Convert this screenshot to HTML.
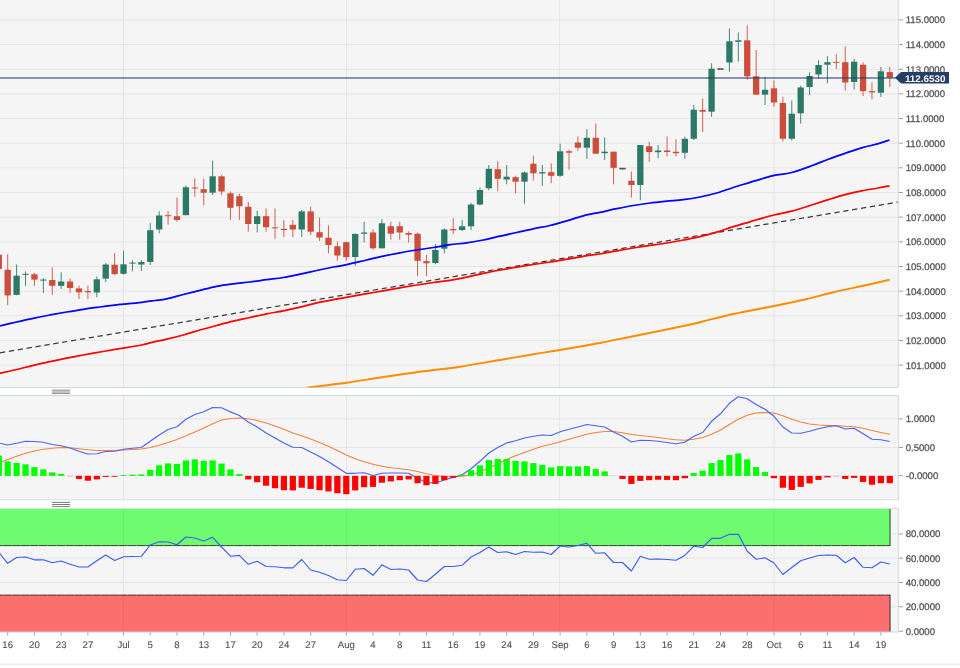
<!DOCTYPE html>
<html lang="en"><head><meta charset="utf-8"><title>Chart</title>
<style>html,body{margin:0;padding:0;background:#fff}body{width:960px;height:668px;overflow:hidden}svg{display:block}text{text-rendering:geometricPrecision;font-family:"Liberation Sans",Arial,sans-serif;font-size:9.6px;fill:#505050;stroke:#505050;stroke-width:0.25px}.x{stroke-width:0.1px}.b{font-weight:bold;fill:#fff;stroke:none}</style></head><body>
<svg width="960" height="668" viewBox="0 0 960 668">
<defs><clipPath id="c3"><rect x="0" y="509.0" width="898.3" height="123"/></clipPath><clipPath id="c1"><rect x="0" y="0" width="898.3" height="387.5"/></clipPath></defs>
<rect width="960" height="668" fill="#fff"/>
<rect x="0" y="0" width="898.3" height="387.5" fill="#f5f5f5"/>
<rect x="0" y="395.5" width="898.3" height="104.3" fill="#f5f5f5"/>
<rect x="0" y="508.5" width="898.3" height="123.5" fill="#f5f5f5"/>
<g fill="#e5e5e5">
<rect x="0" y="364.57" width="898.3" height="1"/>
<rect x="0" y="339.91" width="898.3" height="1"/>
<rect x="0" y="315.26" width="898.3" height="1"/>
<rect x="0" y="290.61" width="898.3" height="1"/>
<rect x="0" y="265.95" width="898.3" height="1"/>
<rect x="0" y="241.3" width="898.3" height="1"/>
<rect x="0" y="216.64" width="898.3" height="1"/>
<rect x="0" y="191.99" width="898.3" height="1"/>
<rect x="0" y="167.33" width="898.3" height="1"/>
<rect x="0" y="142.68" width="898.3" height="1"/>
<rect x="0" y="118.02" width="898.3" height="1"/>
<rect x="0" y="93.37" width="898.3" height="1"/>
<rect x="0" y="68.71" width="898.3" height="1"/>
<rect x="0" y="44.05" width="898.3" height="1"/>
<rect x="0" y="19.4" width="898.3" height="1"/>
<rect x="0" y="418.4" width="898.3" height="1"/>
<rect x="0" y="446.9" width="898.3" height="1"/>
<rect x="0" y="475.2" width="898.3" height="1"/>
<rect x="0" y="557.7" width="898.3" height="1"/>
<rect x="0" y="582" width="898.3" height="1"/>
<rect x="890.59" y="533.4" width="7.71" height="1"/>
<rect x="890.59" y="606.3" width="7.71" height="1"/>
<rect x="123" y="0" width="1" height="387.5"/>
<rect x="123" y="395.5" width="1" height="104.3"/>
<rect x="123" y="508.5" width="1" height="123.5"/>
<rect x="346.1" y="0" width="1" height="387.5"/>
<rect x="346.1" y="395.5" width="1" height="104.3"/>
<rect x="346.1" y="508.5" width="1" height="123.5"/>
<rect x="559.1" y="0" width="1" height="387.5"/>
<rect x="559.1" y="395.5" width="1" height="104.3"/>
<rect x="559.1" y="508.5" width="1" height="123.5"/>
<rect x="773.5" y="0" width="1" height="387.5"/>
<rect x="773.5" y="395.5" width="1" height="104.3"/>
<rect x="773.5" y="508.5" width="1" height="123.5"/>
</g>
<g clip-path="url(#c3)">
<rect x="0" y="508.5" width="890.09" height="37.1" fill="rgba(0,255,0,0.55)"/>
<rect x="0" y="595.1" width="890.09" height="36.9" fill="rgba(255,0,0,0.55)"/>
<path d="M0 545.6 H890.09 M0 595.1 H890.09" fill="none" stroke="rgba(0,0,0,0.72)" stroke-width="1" stroke-dasharray="8.61 0.3" stroke-dashoffset="-3.2"/>
<path d="M890.09 508.5 V546 M890.09 594.7 V632" fill="none" stroke="rgba(0,0,0,0.72)" stroke-width="1"/>
</g>
<g stroke="#ccd4e6" stroke-width="1" fill="none">
<line x1="0" x2="898.3" y1="387.5" y2="387.5"/>
<line x1="0" x2="898.3" y1="395.5" y2="395.5"/>
<line x1="0" x2="898.3" y1="499.8" y2="499.8" stroke="#d9dde9"/>
<line x1="0" x2="898.3" y1="508.5" y2="508.5" stroke="#d9dde9"/>
<line x1="0" x2="898.3" y1="632" y2="632"/>
<line x1="898.3" x2="898.3" y1="0" y2="387.5"/>
<line x1="898.3" x2="898.3" y1="395.5" y2="499.8"/>
<line x1="898.3" x2="898.3" y1="508.5" y2="632"/>
<line x1="0" x2="960" y1="664.2" y2="664.2" stroke="#e3e5ee"/>
</g>
<rect x="52" y="389.7" width="18" height="4.2" fill="#b9b6b6" opacity="0.6"/>
<g stroke-width="1">
<line x1="52" x2="70" y1="390.2" y2="390.2" stroke="#9a9898"/>
<line x1="52" x2="70" y1="391.9" y2="391.9" stroke="#bdbbbb"/>
<line x1="52" x2="70" y1="393.4" y2="393.4" stroke="#8e8c8c"/>
<line x1="52" x2="70" y1="502.4" y2="502.4" stroke="#777"/>
<line x1="52" x2="70" y1="504.5" y2="504.5" stroke="#777"/>
<line x1="52" x2="70" y1="506.5" y2="506.5" stroke="#8a8a8a"/>
</g>
<g clip-path="url(#c1)">
<rect x="-1.71" y="254.7" width="1" height="14.3" fill="#cb4d3c" opacity="0.88"/>
<rect x="-4.36" y="254.7" width="6.3" height="14.3" fill="#cb4d3c"/>
<rect x="7.2" y="254.2" width="1" height="51" fill="#cb4d3c" opacity="0.88"/>
<rect x="4.55" y="269.8" width="6.3" height="25.6" fill="#cb4d3c"/>
<rect x="16.11" y="264.5" width="1" height="30.7" fill="#2c7967" opacity="0.88"/>
<rect x="13.46" y="275.7" width="6.3" height="19.2" fill="#2c7967"/>
<rect x="25.02" y="271.4" width="1" height="14.4" fill="#2c7967" opacity="0.88"/>
<rect x="22.37" y="273.8" width="6.3" height="1" fill="#2c7967"/>
<rect x="33.93" y="272.9" width="1" height="12.9" fill="#cb4d3c" opacity="0.88"/>
<rect x="31.28" y="274.3" width="6.3" height="5.3" fill="#cb4d3c"/>
<rect x="42.84" y="278.1" width="1" height="14.9" fill="#2c7967" opacity="0.88"/>
<rect x="40.19" y="279.6" width="6.3" height="1" fill="#2c7967"/>
<rect x="51.75" y="267.4" width="1" height="27.5" fill="#cb4d3c" opacity="0.88"/>
<rect x="49.1" y="280" width="6.3" height="5.8" fill="#cb4d3c"/>
<rect x="60.66" y="272.2" width="1" height="16.7" fill="#2c7967" opacity="0.88"/>
<rect x="58.01" y="281.5" width="6.3" height="4.3" fill="#2c7967"/>
<rect x="69.57" y="278.6" width="1" height="14.4" fill="#cb4d3c" opacity="0.88"/>
<rect x="66.92" y="281.5" width="6.3" height="6.5" fill="#cb4d3c"/>
<rect x="78.48" y="285.6" width="1" height="13.4" fill="#cb4d3c" opacity="0.88"/>
<rect x="75.83" y="288.4" width="6.3" height="3.9" fill="#cb4d3c"/>
<rect x="87.39" y="285.6" width="1" height="13.4" fill="#cb4d3c" opacity="0.88"/>
<rect x="84.74" y="291.1" width="6.3" height="1.2" fill="#cb4d3c"/>
<rect x="96.3" y="276.5" width="1" height="20.8" fill="#2c7967" opacity="0.88"/>
<rect x="93.65" y="279.3" width="6.3" height="13.2" fill="#2c7967"/>
<rect x="105.21" y="263.3" width="1" height="18.7" fill="#2c7967" opacity="0.88"/>
<rect x="102.56" y="264.5" width="6.3" height="14.1" fill="#2c7967"/>
<rect x="114.12" y="253.2" width="1" height="21.8" fill="#cb4d3c" opacity="0.88"/>
<rect x="111.47" y="264.7" width="6.3" height="9.4" fill="#cb4d3c"/>
<rect x="123.03" y="250.6" width="1" height="24" fill="#2c7967" opacity="0.88"/>
<rect x="120.38" y="264.3" width="6.3" height="9.5" fill="#2c7967"/>
<rect x="131.94" y="260.2" width="1" height="11.2" fill="#2c7967" opacity="0.88"/>
<rect x="129.29" y="262.6" width="6.3" height="1" fill="#2c7967"/>
<rect x="140.85" y="260.2" width="1" height="10.8" fill="#2c7967" opacity="0.88"/>
<rect x="138.2" y="262.1" width="6.3" height="2.4" fill="#2c7967"/>
<rect x="149.76" y="222.8" width="1" height="42.2" fill="#2c7967" opacity="0.88"/>
<rect x="147.11" y="230.2" width="6.3" height="31.7" fill="#2c7967"/>
<rect x="158.67" y="211.2" width="1" height="22.1" fill="#2c7967" opacity="0.88"/>
<rect x="156.02" y="215.5" width="6.3" height="14" fill="#2c7967"/>
<rect x="167.58" y="211.2" width="1" height="13.3" fill="#cb4d3c" opacity="0.88"/>
<rect x="164.93" y="215.2" width="6.3" height="1" fill="#cb4d3c"/>
<rect x="176.49" y="197.5" width="1" height="24.2" fill="#cb4d3c" opacity="0.88"/>
<rect x="173.84" y="216.2" width="6.3" height="3.8" fill="#cb4d3c"/>
<rect x="185.4" y="185.5" width="1" height="29.7" fill="#2c7967" opacity="0.88"/>
<rect x="182.75" y="187.3" width="6.3" height="27.9" fill="#2c7967"/>
<rect x="194.31" y="178.5" width="1" height="18.2" fill="#cb4d3c" opacity="0.88"/>
<rect x="191.66" y="187.5" width="6.3" height="1" fill="#cb4d3c"/>
<rect x="203.22" y="178.5" width="1" height="27" fill="#cb4d3c" opacity="0.88"/>
<rect x="200.57" y="189.2" width="6.3" height="3.5" fill="#cb4d3c"/>
<rect x="212.13" y="160.5" width="1" height="34.5" fill="#2c7967" opacity="0.88"/>
<rect x="209.48" y="176.3" width="6.3" height="16.4" fill="#2c7967"/>
<rect x="221.04" y="175" width="1" height="20" fill="#cb4d3c" opacity="0.88"/>
<rect x="218.39" y="176.3" width="6.3" height="15.2" fill="#cb4d3c"/>
<rect x="229.95" y="191.3" width="1" height="28.7" fill="#cb4d3c" opacity="0.88"/>
<rect x="227.3" y="193.3" width="6.3" height="14.5" fill="#cb4d3c"/>
<rect x="238.86" y="193.8" width="1" height="26.2" fill="#cb4d3c" opacity="0.88"/>
<rect x="236.21" y="196.2" width="6.3" height="10.1" fill="#cb4d3c"/>
<rect x="247.77" y="202" width="1" height="29.7" fill="#cb4d3c" opacity="0.88"/>
<rect x="245.12" y="206.8" width="6.3" height="17.2" fill="#cb4d3c"/>
<rect x="256.68" y="210.8" width="1" height="21.7" fill="#2c7967" opacity="0.88"/>
<rect x="254.03" y="216.2" width="6.3" height="7.8" fill="#2c7967"/>
<rect x="265.59" y="208.3" width="1" height="23.4" fill="#cb4d3c" opacity="0.88"/>
<rect x="262.94" y="216.2" width="6.3" height="11" fill="#cb4d3c"/>
<rect x="274.5" y="208.3" width="1" height="30.5" fill="#cb4d3c" opacity="0.88"/>
<rect x="271.85" y="227.3" width="6.3" height="1" fill="#cb4d3c"/>
<rect x="283.41" y="220" width="1" height="17.2" fill="#cb4d3c" opacity="0.88"/>
<rect x="280.76" y="228.8" width="6.3" height="1.2" fill="#cb4d3c"/>
<rect x="292.32" y="220" width="1" height="17.2" fill="#cb4d3c" opacity="0.88"/>
<rect x="289.67" y="224.8" width="6.3" height="4.7" fill="#cb4d3c"/>
<rect x="301.23" y="210" width="1" height="27" fill="#2c7967" opacity="0.88"/>
<rect x="298.58" y="211.4" width="6.3" height="18.1" fill="#2c7967"/>
<rect x="310.14" y="206.7" width="1" height="28.3" fill="#cb4d3c" opacity="0.88"/>
<rect x="307.49" y="211.4" width="6.3" height="20.3" fill="#cb4d3c"/>
<rect x="319.05" y="217.5" width="1" height="23.3" fill="#cb4d3c" opacity="0.88"/>
<rect x="316.4" y="232.2" width="6.3" height="5.3" fill="#cb4d3c"/>
<rect x="327.96" y="225.3" width="1" height="28" fill="#cb4d3c" opacity="0.88"/>
<rect x="325.31" y="237.8" width="6.3" height="7.2" fill="#cb4d3c"/>
<rect x="336.87" y="241.7" width="1" height="19.1" fill="#cb4d3c" opacity="0.88"/>
<rect x="334.22" y="246.3" width="6.3" height="9.2" fill="#cb4d3c"/>
<rect x="345.78" y="241.7" width="1" height="19.1" fill="#cb4d3c" opacity="0.88"/>
<rect x="343.13" y="242.2" width="6.3" height="15" fill="#cb4d3c"/>
<rect x="354.69" y="233.3" width="1" height="32.5" fill="#2c7967" opacity="0.88"/>
<rect x="352.04" y="234" width="6.3" height="23" fill="#2c7967"/>
<rect x="363.6" y="221.7" width="1" height="20.8" fill="#2c7967" opacity="0.88"/>
<rect x="360.95" y="232.5" width="6.3" height="1.2" fill="#2c7967"/>
<rect x="372.51" y="229.2" width="1" height="20.5" fill="#cb4d3c" opacity="0.88"/>
<rect x="369.86" y="232.5" width="6.3" height="15.8" fill="#cb4d3c"/>
<rect x="381.42" y="219.2" width="1" height="29.1" fill="#2c7967" opacity="0.88"/>
<rect x="378.77" y="223.3" width="6.3" height="25" fill="#2c7967"/>
<rect x="390.33" y="221.7" width="1" height="18" fill="#cb4d3c" opacity="0.88"/>
<rect x="387.68" y="226.2" width="6.3" height="7.5" fill="#cb4d3c"/>
<rect x="399.24" y="221.7" width="1" height="18" fill="#cb4d3c" opacity="0.88"/>
<rect x="396.59" y="226.2" width="6.3" height="6.3" fill="#cb4d3c"/>
<rect x="408.15" y="231.3" width="1" height="11.2" fill="#cb4d3c" opacity="0.88"/>
<rect x="405.5" y="233" width="6.3" height="1.7" fill="#cb4d3c"/>
<rect x="417.06" y="232.5" width="1" height="43.7" fill="#cb4d3c" opacity="0.88"/>
<rect x="414.41" y="233.8" width="6.3" height="27" fill="#cb4d3c"/>
<rect x="425.97" y="255" width="1" height="21.2" fill="#cb4d3c" opacity="0.88"/>
<rect x="423.32" y="261.2" width="6.3" height="2.1" fill="#cb4d3c"/>
<rect x="434.88" y="244.2" width="1" height="20" fill="#2c7967" opacity="0.88"/>
<rect x="432.23" y="250" width="6.3" height="13" fill="#2c7967"/>
<rect x="443.79" y="228.3" width="1" height="25" fill="#2c7967" opacity="0.88"/>
<rect x="441.14" y="229.5" width="6.3" height="19.2" fill="#2c7967"/>
<rect x="452.7" y="218.3" width="1" height="15.9" fill="#cb4d3c" opacity="0.88"/>
<rect x="450.05" y="229" width="6.3" height="1.3" fill="#cb4d3c"/>
<rect x="461.61" y="220" width="1" height="11" fill="#2c7967" opacity="0.88"/>
<rect x="458.96" y="226.3" width="6.3" height="3.7" fill="#2c7967"/>
<rect x="470.52" y="202.8" width="1" height="27.2" fill="#2c7967" opacity="0.88"/>
<rect x="467.87" y="204.5" width="6.3" height="21.8" fill="#2c7967"/>
<rect x="479.43" y="187.5" width="1" height="18" fill="#2c7967" opacity="0.88"/>
<rect x="476.78" y="190" width="6.3" height="14.5" fill="#2c7967"/>
<rect x="488.34" y="165" width="1" height="25.3" fill="#2c7967" opacity="0.88"/>
<rect x="485.69" y="168.8" width="6.3" height="19.5" fill="#2c7967"/>
<rect x="497.25" y="161.3" width="1" height="30" fill="#cb4d3c" opacity="0.88"/>
<rect x="494.6" y="169.2" width="6.3" height="9.6" fill="#cb4d3c"/>
<rect x="506.16" y="165" width="1" height="19.2" fill="#2c7967" opacity="0.88"/>
<rect x="503.51" y="176.7" width="6.3" height="2.8" fill="#2c7967"/>
<rect x="515.07" y="175.8" width="1" height="17.5" fill="#cb4d3c" opacity="0.88"/>
<rect x="512.42" y="177.2" width="6.3" height="4.5" fill="#cb4d3c"/>
<rect x="523.98" y="171.7" width="1" height="32.1" fill="#2c7967" opacity="0.88"/>
<rect x="521.33" y="172.5" width="6.3" height="9.2" fill="#2c7967"/>
<rect x="532.89" y="155.8" width="1" height="24.7" fill="#cb4d3c" opacity="0.88"/>
<rect x="530.24" y="163.7" width="6.3" height="9.6" fill="#cb4d3c"/>
<rect x="541.8" y="165" width="1" height="20.8" fill="#2c7967" opacity="0.88"/>
<rect x="539.15" y="172.2" width="6.3" height="1.3" fill="#2c7967"/>
<rect x="550.71" y="163.3" width="1" height="20" fill="#cb4d3c" opacity="0.88"/>
<rect x="548.06" y="172.2" width="6.3" height="3.6" fill="#cb4d3c"/>
<rect x="559.62" y="143.7" width="1" height="33" fill="#2c7967" opacity="0.88"/>
<rect x="556.97" y="151.3" width="6.3" height="24.5" fill="#2c7967"/>
<rect x="568.53" y="149.7" width="1" height="20" fill="#cb4d3c" opacity="0.88"/>
<rect x="565.88" y="151.2" width="6.3" height="1.5" fill="#cb4d3c"/>
<rect x="577.44" y="136.2" width="1" height="14.6" fill="#cb4d3c" opacity="0.88"/>
<rect x="574.79" y="142.5" width="6.3" height="5.2" fill="#cb4d3c"/>
<rect x="586.35" y="129.2" width="1" height="29.6" fill="#2c7967" opacity="0.88"/>
<rect x="583.7" y="137.8" width="6.3" height="9.9" fill="#2c7967"/>
<rect x="595.26" y="123.7" width="1" height="30" fill="#cb4d3c" opacity="0.88"/>
<rect x="592.61" y="137.8" width="6.3" height="15.9" fill="#cb4d3c"/>
<rect x="604.17" y="137.3" width="1" height="22.7" fill="#2c7967" opacity="0.88"/>
<rect x="601.52" y="151.7" width="6.3" height="1.5" fill="#2c7967"/>
<rect x="613.08" y="151.7" width="1" height="32.5" fill="#cb4d3c" opacity="0.88"/>
<rect x="610.43" y="151.7" width="6.3" height="16.1" fill="#cb4d3c"/>
<rect x="619.34" y="167.8" width="6.3" height="1.7" fill="#555"/>
<rect x="630.9" y="171.7" width="1" height="25.8" fill="#cb4d3c" opacity="0.88"/>
<rect x="628.25" y="180.8" width="6.3" height="4.2" fill="#cb4d3c"/>
<rect x="639.81" y="145" width="1" height="55.3" fill="#2c7967" opacity="0.88"/>
<rect x="637.16" y="145" width="6.3" height="40" fill="#2c7967"/>
<rect x="648.72" y="141.7" width="1" height="20" fill="#cb4d3c" opacity="0.88"/>
<rect x="646.07" y="146.3" width="6.3" height="5.7" fill="#cb4d3c"/>
<rect x="657.63" y="145" width="1" height="13.3" fill="#2c7967" opacity="0.88"/>
<rect x="654.98" y="150.5" width="6.3" height="1.7" fill="#2c7967"/>
<rect x="666.54" y="136.3" width="1" height="20" fill="#cb4d3c" opacity="0.88"/>
<rect x="663.89" y="150.5" width="6.3" height="1.5" fill="#cb4d3c"/>
<rect x="675.45" y="139.2" width="1" height="17.1" fill="#cb4d3c" opacity="0.88"/>
<rect x="672.8" y="151.8" width="6.3" height="1.4" fill="#cb4d3c"/>
<rect x="684.36" y="136.7" width="1" height="22.1" fill="#2c7967" opacity="0.88"/>
<rect x="681.71" y="138.8" width="6.3" height="14" fill="#2c7967"/>
<rect x="693.27" y="105" width="1" height="35" fill="#2c7967" opacity="0.88"/>
<rect x="690.62" y="109.7" width="6.3" height="29" fill="#2c7967"/>
<rect x="702.18" y="98.5" width="1" height="33.5" fill="#cb4d3c" opacity="0.88"/>
<rect x="699.53" y="110" width="6.3" height="1.7" fill="#cb4d3c"/>
<rect x="711.09" y="63.3" width="1" height="53.4" fill="#2c7967" opacity="0.88"/>
<rect x="708.44" y="68.7" width="6.3" height="43" fill="#2c7967"/>
<rect x="717.35" y="68.2" width="6.3" height="1.6" fill="#555"/>
<rect x="728.91" y="28.3" width="1" height="43.4" fill="#2c7967" opacity="0.88"/>
<rect x="726.26" y="41.3" width="6.3" height="21.2" fill="#2c7967"/>
<rect x="737.82" y="32.5" width="1" height="29.2" fill="#2c7967" opacity="0.88"/>
<rect x="735.17" y="40.3" width="6.3" height="1.5" fill="#2c7967"/>
<rect x="746.73" y="25.5" width="1" height="54.2" fill="#cb4d3c" opacity="0.88"/>
<rect x="744.08" y="40.3" width="6.3" height="36" fill="#cb4d3c"/>
<rect x="755.64" y="50" width="1" height="44.7" fill="#cb4d3c" opacity="0.88"/>
<rect x="752.99" y="76.3" width="6.3" height="18.4" fill="#cb4d3c"/>
<rect x="764.55" y="76.8" width="1" height="28.2" fill="#2c7967" opacity="0.88"/>
<rect x="761.9" y="89.8" width="6.3" height="4.8" fill="#2c7967"/>
<rect x="773.46" y="80.4" width="1" height="26.3" fill="#cb4d3c" opacity="0.88"/>
<rect x="770.81" y="88.3" width="6.3" height="14.2" fill="#cb4d3c"/>
<rect x="782.37" y="96.7" width="1" height="44.8" fill="#cb4d3c" opacity="0.88"/>
<rect x="779.72" y="103" width="6.3" height="35.7" fill="#cb4d3c"/>
<rect x="791.28" y="100.4" width="1" height="40.2" fill="#2c7967" opacity="0.88"/>
<rect x="788.63" y="113.7" width="6.3" height="25" fill="#2c7967"/>
<rect x="800.19" y="85.8" width="1" height="37.9" fill="#2c7967" opacity="0.88"/>
<rect x="797.54" y="87.5" width="6.3" height="25.8" fill="#2c7967"/>
<rect x="809.1" y="72.3" width="1" height="22.7" fill="#2c7967" opacity="0.88"/>
<rect x="806.45" y="76" width="6.3" height="11.1" fill="#2c7967"/>
<rect x="818.01" y="60.4" width="1" height="18.4" fill="#2c7967" opacity="0.88"/>
<rect x="815.36" y="65" width="6.3" height="9.5" fill="#2c7967"/>
<rect x="826.92" y="56.2" width="1" height="27.1" fill="#2c7967" opacity="0.88"/>
<rect x="824.27" y="62.2" width="6.3" height="2.5" fill="#2c7967"/>
<rect x="835.83" y="54.3" width="1" height="14.5" fill="#cb4d3c" opacity="0.88"/>
<rect x="833.18" y="61.9" width="6.3" height="1" fill="#cb4d3c"/>
<rect x="844.74" y="46.3" width="1" height="44.2" fill="#cb4d3c" opacity="0.88"/>
<rect x="842.09" y="62.2" width="6.3" height="20.3" fill="#cb4d3c"/>
<rect x="853.65" y="58.8" width="1" height="30.7" fill="#2c7967" opacity="0.88"/>
<rect x="851" y="61.7" width="6.3" height="20.3" fill="#2c7967"/>
<rect x="862.56" y="62.5" width="1" height="33.5" fill="#cb4d3c" opacity="0.88"/>
<rect x="859.91" y="64.8" width="6.3" height="26.4" fill="#cb4d3c"/>
<rect x="871.47" y="82.3" width="1" height="17.2" fill="#cb4d3c" opacity="0.88"/>
<rect x="868.82" y="91.1" width="6.3" height="1.3" fill="#cb4d3c"/>
<rect x="880.38" y="67" width="1" height="30" fill="#2c7967" opacity="0.88"/>
<rect x="877.73" y="71.3" width="6.3" height="21.4" fill="#2c7967"/>
<rect x="889.29" y="67" width="1" height="20.1" fill="#cb4d3c" opacity="0.88"/>
<rect x="886.64" y="72.1" width="6.3" height="5.6" fill="#cb4d3c"/>
<path d="M307.5 387.5 C314.03 386.72 334.07 384.55 346.7 382.8 C359.33 381.05 371.63 378.77 383.3 377 C394.97 375.23 403.92 373.92 416.7 372.2 C429.48 370.48 446.12 368.73 460 366.7 C473.88 364.67 487.78 362.07 500 360 C512.22 357.93 523.3 355.97 533.3 354.3 C543.3 352.63 548.88 351.88 560 350 C571.12 348.12 587.78 345.3 600 343 C612.22 340.7 622.18 338.45 633.3 336.2 C644.42 333.95 655.58 331.83 666.7 329.5 C677.82 327.17 688.9 324.78 700 322.2 C711.1 319.62 720.97 316.7 733.3 314 C745.63 311.3 761.77 308.5 774 306 C786.23 303.5 796.82 301.28 806.7 299 C816.58 296.72 823.3 294.63 833.3 292.3 C843.3 289.97 857.33 287.08 866.7 285 C876.07 282.92 885.7 280.67 889.5 279.8" fill="none" stroke="#ff8c00" stroke-width="1.9" stroke-linejoin="round"/>
<path d="M0 352.8 L897.5 202.2" fill="none" stroke="#3a3a3a" stroke-width="1.25" stroke-dasharray="5.3 3.7"/>
<path d="M0 373.3 C2.78 372.67 11.15 370.83 16.7 369.5 C22.25 368.17 27.75 366.6 33.3 365.3 C38.85 364 44.43 362.88 50 361.7 C55.57 360.52 61.15 359.32 66.7 358.2 C72.25 357.08 77.75 356.03 83.3 355 C88.85 353.97 94.43 352.97 100 352 C105.57 351.03 112.82 349.83 116.7 349.2 C120.58 348.57 119.13 348.9 123.3 348.2 C127.47 347.5 136.42 346.08 141.7 345 C146.98 343.92 150.83 342.67 155 341.7 C159.17 340.73 161.98 340.32 166.7 339.2 C171.42 338.08 177.75 336.53 183.3 335 C188.85 333.47 194.43 331.58 200 330 C205.57 328.42 211.15 326.97 216.7 325.5 C222.25 324.03 227.75 322.53 233.3 321.2 C238.85 319.87 244.43 318.73 250 317.5 C255.57 316.27 261.15 314.92 266.7 313.8 C272.25 312.68 277.75 311.9 283.3 310.8 C288.85 309.7 294.43 308.53 300 307.2 C305.57 305.87 311.15 304.05 316.7 302.8 C322.25 301.55 327.75 300.72 333.3 299.7 C338.85 298.68 344.43 297.7 350 296.7 C355.57 295.7 361.15 294.68 366.7 293.7 C372.25 292.72 377.75 291.78 383.3 290.8 C388.85 289.82 394.43 288.77 400 287.8 C405.57 286.83 411.15 285.88 416.7 285 C422.25 284.12 427.75 283.28 433.3 282.5 C438.85 281.72 444.43 281.18 450 280.3 C455.57 279.42 461.15 278.37 466.7 277.2 C472.25 276.03 477.75 274.5 483.3 273.3 C488.85 272.1 494.43 271.02 500 270 C505.57 268.98 511.15 268.12 516.7 267.2 C522.25 266.28 527.75 265.37 533.3 264.5 C538.85 263.63 544.43 262.88 550 262 C555.57 261.12 561.15 260.15 566.7 259.2 C572.25 258.25 577.75 257.17 583.3 256.3 C588.85 255.43 594.43 254.92 600 254 C605.57 253.08 611.15 251.8 616.7 250.8 C622.25 249.8 627.75 248.88 633.3 248 C638.85 247.12 644.43 246.33 650 245.5 C655.57 244.67 661.15 243.92 666.7 243 C672.25 242.08 677.75 241.05 683.3 240 C688.85 238.95 694.43 238 700 236.7 C705.57 235.4 711.15 233.87 716.7 232.2 C722.25 230.53 727.75 228.43 733.3 226.7 C738.85 224.97 745.27 223.2 750 221.8 C754.73 220.4 757.67 219.43 761.7 218.3 C765.73 217.17 769.2 216.18 774.2 215 C779.2 213.82 785.45 212.87 791.7 211.2 C797.95 209.53 805.6 206.92 811.7 205 C817.8 203.08 822.75 201.42 828.3 199.7 C833.85 197.98 839.43 196.18 845 194.7 C850.57 193.22 856.15 191.92 861.7 190.8 C867.25 189.68 873.67 188.83 878.3 188 C882.93 187.17 887.63 186.17 889.5 185.8" fill="none" stroke="#ff0000" stroke-width="1.75" stroke-linejoin="round"/>
<path d="M0 325.8 C2.78 325.17 11.15 323.25 16.7 322 C22.25 320.75 27.75 319.47 33.3 318.3 C38.85 317.13 44.43 316.05 50 315 C55.57 313.95 61.15 312.95 66.7 312 C72.25 311.05 77.75 310.13 83.3 309.3 C88.85 308.47 94.43 307.75 100 307 C105.57 306.25 112.82 305.27 116.7 304.8 C120.58 304.33 119.13 304.62 123.3 304.2 C127.47 303.78 136.42 302.92 141.7 302.3 C146.98 301.68 150.83 301.08 155 300.5 C159.17 299.92 161.98 299.8 166.7 298.8 C171.42 297.8 177.75 295.92 183.3 294.5 C188.85 293.08 194.43 291.67 200 290.3 C205.57 288.93 211.15 287.38 216.7 286.3 C222.25 285.22 227.75 284.52 233.3 283.8 C238.85 283.08 244.43 282.68 250 282 C255.57 281.32 261.15 280.45 266.7 279.7 C272.25 278.95 277.75 278.42 283.3 277.5 C288.85 276.58 294.43 275.37 300 274.2 C305.57 273.03 311.15 271.7 316.7 270.5 C322.25 269.3 328.3 267.97 333.3 267 C338.3 266.03 341.13 265.87 346.7 264.7 C352.27 263.53 360.6 261.42 366.7 260 C372.8 258.58 377.75 257.4 383.3 256.2 C388.85 255 394.43 253.83 400 252.8 C405.57 251.77 411.15 250.88 416.7 250 C422.25 249.12 427.75 248.38 433.3 247.5 C438.85 246.62 444.43 245.48 450 244.7 C455.57 243.92 461.15 243.58 466.7 242.8 C472.25 242.02 477.75 241.1 483.3 240 C488.85 238.9 494.43 237.45 500 236.2 C505.57 234.95 511.15 233.73 516.7 232.5 C522.25 231.27 527.75 229.97 533.3 228.8 C538.85 227.63 544.43 226.83 550 225.5 C555.57 224.17 561.15 222.42 566.7 220.8 C572.25 219.18 577.75 217.22 583.3 215.8 C588.85 214.38 594.43 213.48 600 212.3 C605.57 211.12 611.15 209.83 616.7 208.7 C622.25 207.57 627.75 206.45 633.3 205.5 C638.85 204.55 644.43 203.72 650 203 C655.57 202.28 661.15 201.75 666.7 201.2 C672.25 200.65 677.75 200.4 683.3 199.7 C688.85 199 694.43 198.12 700 197 C705.57 195.88 711.15 194.58 716.7 193 C722.25 191.42 727.75 189.27 733.3 187.5 C738.85 185.73 745.27 183.85 750 182.4 C754.73 180.95 757.67 179.98 761.7 178.8 C765.73 177.62 769.2 176.35 774.2 175.3 C779.2 174.25 785.45 174.08 791.7 172.5 C797.95 170.92 805.6 168.02 811.7 165.8 C817.8 163.58 822.75 161.28 828.3 159.2 C833.85 157.12 839.43 155.2 845 153.3 C850.57 151.4 856.15 149.4 861.7 147.8 C867.25 146.2 873.67 145 878.3 143.7 C882.93 142.4 887.63 140.62 889.5 140" fill="none" stroke="#0000ff" stroke-width="1.75" stroke-linejoin="round"/>
</g>
<line x1="0" x2="898.3" y1="78" y2="78" stroke="rgba(37,61,99,0.52)" stroke-width="1.8"/>
<path d="M0 462.5 L7.7 459.5 L16.61 456.3 L25.52 453.3 L34.43 451 L43.34 449.3 L52.25 448.3 L61.16 447.5 L70.07 447.8 L78.98 448.8 L87.89 449.8 L96.8 450.5 L105.71 450.5 L114.62 450.5 L123.53 450 L132.44 449.5 L141.35 449 L150.26 447.5 L159.17 445.3 L168.08 442.5 L176.99 439.5 L185.9 435.8 L194.81 432 L203.72 428 L212.63 423.8 L221.54 420 L230.45 418.5 L239.36 418 L248.27 418.8 L257.18 420.5 L266.09 423 L275 426 L283.91 429.3 L292.82 433 L301.73 435.8 L310.64 439 L319.55 442.5 L328.46 446.3 L337.37 450.5 L346.28 455 L355.19 458.8 L364.1 461.8 L373.01 464.3 L381.92 466.3 L390.83 467.8 L399.74 468.8 L408.65 469.8 L417.56 471.5 L426.47 473.8 L435.38 475.5 L444.29 476.5 L453.2 476.8 L462.11 476.3 L471.02 475 L479.93 471.8 L488.84 468 L497.75 463.8 L506.66 459.5 L515.57 455.8 L524.48 452.5 L533.39 449.3 L542.3 446.3 L551.21 444.3 L560.12 441.8 L569.03 439.3 L577.94 436.8 L586.85 434.3 L595.76 432.5 L604.67 431.5 L613.58 431.5 L622.49 432.8 L631.4 434.5 L640.31 435.5 L649.22 436.5 L658.13 437.5 L667.04 438.8 L675.95 439.8 L684.86 440.2 L693.77 439.3 L702.68 437.5 L711.59 434.3 L720.5 430 L729.41 424.5 L738.32 419.3 L747.23 415.3 L756.14 413 L765.05 412.5 L773.96 413 L782.87 415.8 L791.78 419.3 L800.69 422 L809.6 424 L818.51 425 L827.42 425.5 L836.33 425.5 L845.24 426.3 L854.15 426.8 L863.06 428.3 L871.97 430.5 L880.88 432.5 L889.79 434.3" fill="none" stroke="#f5803c" stroke-width="1.15" stroke-linejoin="round"/>
<path d="M-1.21 443 L7.7 445 L16.61 443.3 L25.52 441.3 L34.43 441.5 L43.34 442.3 L52.25 444.5 L61.16 445.8 L70.07 448 L78.98 451.3 L87.89 454 L96.8 453.8 L105.71 451.5 L114.62 451.3 L123.53 449.3 L132.44 448.3 L141.35 447.5 L150.26 441.3 L159.17 435 L168.08 429.5 L176.99 426.8 L185.9 419.3 L194.81 414.5 L203.72 411.8 L212.63 407.5 L221.54 407.8 L230.45 411.9 L239.36 415.5 L248.27 422 L257.18 427 L266.09 433 L275 438 L283.91 443 L292.82 447.3 L301.73 447.5 L310.64 452 L319.55 456.5 L328.46 461.8 L337.37 467.5 L346.28 473.3 L355.19 473.3 L364.1 472.8 L373.01 475.5 L381.92 473.3 L390.83 473 L399.74 473 L408.65 473.3 L417.56 478.3 L426.47 482.5 L435.38 483 L444.29 480 L453.2 477.5 L462.11 474.7 L471.02 468.8 L479.93 461.3 L488.84 453 L497.75 447.5 L506.66 443 L515.57 440.8 L524.48 438 L533.39 436.3 L542.3 435 L551.21 435.5 L560.12 431.8 L569.03 429.3 L577.94 427 L586.85 424.5 L595.76 425.8 L604.67 427 L613.58 432 L622.49 436.3 L631.4 442 L640.31 440.3 L649.22 440.5 L658.13 441.3 L667.04 442.5 L675.95 443.8 L684.86 442.3 L693.77 436.3 L702.68 432.5 L711.59 421.3 L720.5 413.8 L729.41 403.3 L738.32 396.8 L747.23 398.8 L756.14 404.5 L765.05 409.3 L773.96 416.3 L782.87 427 L791.78 433 L800.69 433.3 L809.6 431.3 L818.51 428.8 L827.42 426.8 L836.33 425.8 L845.24 429 L854.15 428.3 L863.06 433.8 L871.97 439.3 L880.88 439.8 L889.79 441.5" fill="none" stroke="#4a62f0" stroke-width="1.15" stroke-linejoin="round"/>
<rect x="-4.31" y="455.6" width="6.2" height="20.3" fill="#00ff00"/>
<rect x="4.6" y="461.4" width="6.2" height="14.5" fill="#00ff00"/>
<rect x="13.51" y="462.9" width="6.2" height="13" fill="#00ff00"/>
<rect x="22.42" y="464.4" width="6.2" height="11.5" fill="#00ff00"/>
<rect x="31.33" y="467.1" width="6.2" height="8.8" fill="#00ff00"/>
<rect x="40.24" y="469.4" width="6.2" height="6.5" fill="#00ff00"/>
<rect x="49.15" y="472.4" width="6.2" height="3.5" fill="#00ff00"/>
<rect x="58.06" y="473.9" width="6.2" height="2" fill="#00ff00"/>
<rect x="66.97" y="475.9" width="6.2" height="0.4" fill="#ff0000" opacity="0.45"/>
<rect x="75.88" y="475.9" width="6.2" height="3" fill="#ff0000"/>
<rect x="84.79" y="475.9" width="6.2" height="4.8" fill="#ff0000"/>
<rect x="93.7" y="475.9" width="6.2" height="3.5" fill="#ff0000"/>
<rect x="102.61" y="475.9" width="6.2" height="1" fill="#ff0000"/>
<rect x="111.52" y="475.9" width="6.2" height="0.8" fill="#ff0000"/>
<rect x="120.43" y="475.1" width="6.2" height="0.8" fill="#00ff00"/>
<rect x="129.34" y="474.7" width="6.2" height="1.2" fill="#00ff00"/>
<rect x="138.25" y="474.4" width="6.2" height="1.5" fill="#00ff00"/>
<rect x="147.16" y="469.9" width="6.2" height="6" fill="#00ff00"/>
<rect x="156.07" y="465.4" width="6.2" height="10.5" fill="#00ff00"/>
<rect x="164.98" y="463.4" width="6.2" height="12.5" fill="#00ff00"/>
<rect x="173.89" y="463.9" width="6.2" height="12" fill="#00ff00"/>
<rect x="182.8" y="460.4" width="6.2" height="15.5" fill="#00ff00"/>
<rect x="191.71" y="459.4" width="6.2" height="16.5" fill="#00ff00"/>
<rect x="200.62" y="460.9" width="6.2" height="15" fill="#00ff00"/>
<rect x="209.53" y="460.4" width="6.2" height="15.5" fill="#00ff00"/>
<rect x="218.44" y="463.6" width="6.2" height="12.3" fill="#00ff00"/>
<rect x="227.35" y="469.4" width="6.2" height="6.5" fill="#00ff00"/>
<rect x="236.26" y="473.9" width="6.2" height="2" fill="#00ff00"/>
<rect x="245.17" y="475.9" width="6.2" height="3.5" fill="#ff0000"/>
<rect x="254.08" y="475.9" width="6.2" height="6.3" fill="#ff0000"/>
<rect x="262.99" y="475.9" width="6.2" height="9.8" fill="#ff0000"/>
<rect x="271.9" y="475.9" width="6.2" height="12.3" fill="#ff0000"/>
<rect x="280.81" y="475.9" width="6.2" height="14.3" fill="#ff0000"/>
<rect x="289.72" y="475.9" width="6.2" height="14.5" fill="#ff0000"/>
<rect x="298.63" y="475.9" width="6.2" height="11.8" fill="#ff0000"/>
<rect x="307.54" y="475.9" width="6.2" height="13" fill="#ff0000"/>
<rect x="316.45" y="475.9" width="6.2" height="14.3" fill="#ff0000"/>
<rect x="325.36" y="475.9" width="6.2" height="15.5" fill="#ff0000"/>
<rect x="334.27" y="475.9" width="6.2" height="17.3" fill="#ff0000"/>
<rect x="343.18" y="475.9" width="6.2" height="18.3" fill="#ff0000"/>
<rect x="352.09" y="475.9" width="6.2" height="14.5" fill="#ff0000"/>
<rect x="361" y="475.9" width="6.2" height="11.3" fill="#ff0000"/>
<rect x="369.91" y="475.9" width="6.2" height="11" fill="#ff0000"/>
<rect x="378.82" y="475.9" width="6.2" height="6.8" fill="#ff0000"/>
<rect x="387.73" y="475.9" width="6.2" height="5.5" fill="#ff0000"/>
<rect x="396.64" y="475.9" width="6.2" height="4.3" fill="#ff0000"/>
<rect x="405.55" y="475.9" width="6.2" height="3.5" fill="#ff0000"/>
<rect x="414.46" y="475.9" width="6.2" height="7.3" fill="#ff0000"/>
<rect x="423.37" y="475.9" width="6.2" height="9.3" fill="#ff0000"/>
<rect x="432.28" y="475.9" width="6.2" height="8" fill="#ff0000"/>
<rect x="441.19" y="475.9" width="6.2" height="4.3" fill="#ff0000"/>
<rect x="450.1" y="475.9" width="6.2" height="1.8" fill="#ff0000"/>
<rect x="459.01" y="474.6" width="6.2" height="1.3" fill="#00ff00"/>
<rect x="467.92" y="470.1" width="6.2" height="5.8" fill="#00ff00"/>
<rect x="476.83" y="465.4" width="6.2" height="10.5" fill="#00ff00"/>
<rect x="485.74" y="460.1" width="6.2" height="15.8" fill="#00ff00"/>
<rect x="494.65" y="459.1" width="6.2" height="16.8" fill="#00ff00"/>
<rect x="503.56" y="459.1" width="6.2" height="16.8" fill="#00ff00"/>
<rect x="512.47" y="460.9" width="6.2" height="15" fill="#00ff00"/>
<rect x="521.38" y="461.4" width="6.2" height="14.5" fill="#00ff00"/>
<rect x="530.29" y="463.1" width="6.2" height="12.8" fill="#00ff00"/>
<rect x="539.2" y="464.9" width="6.2" height="11" fill="#00ff00"/>
<rect x="548.11" y="467.4" width="6.2" height="8.5" fill="#00ff00"/>
<rect x="557.02" y="466.1" width="6.2" height="9.8" fill="#00ff00"/>
<rect x="565.93" y="466.4" width="6.2" height="9.5" fill="#00ff00"/>
<rect x="574.84" y="466.4" width="6.2" height="9.5" fill="#00ff00"/>
<rect x="583.75" y="466.1" width="6.2" height="9.8" fill="#00ff00"/>
<rect x="592.66" y="469.1" width="6.2" height="6.8" fill="#00ff00"/>
<rect x="601.57" y="471.4" width="6.2" height="4.5" fill="#00ff00"/>
<rect x="610.48" y="475.6" width="6.2" height="0.3" fill="#00ff00" opacity="0.45"/>
<rect x="619.39" y="475.9" width="6.2" height="3" fill="#ff0000"/>
<rect x="628.3" y="475.9" width="6.2" height="8" fill="#ff0000"/>
<rect x="637.21" y="475.9" width="6.2" height="5" fill="#ff0000"/>
<rect x="646.12" y="475.9" width="6.2" height="4.3" fill="#ff0000"/>
<rect x="655.03" y="475.9" width="6.2" height="3.8" fill="#ff0000"/>
<rect x="663.94" y="475.9" width="6.2" height="4" fill="#ff0000"/>
<rect x="672.85" y="475.9" width="6.2" height="4.3" fill="#ff0000"/>
<rect x="681.76" y="475.9" width="6.2" height="2.3" fill="#ff0000"/>
<rect x="690.67" y="473.1" width="6.2" height="2.8" fill="#00ff00"/>
<rect x="699.58" y="470.6" width="6.2" height="5.3" fill="#00ff00"/>
<rect x="708.49" y="463.1" width="6.2" height="12.8" fill="#00ff00"/>
<rect x="717.4" y="460.1" width="6.2" height="15.8" fill="#00ff00"/>
<rect x="726.31" y="455.1" width="6.2" height="20.8" fill="#00ff00"/>
<rect x="735.22" y="453.4" width="6.2" height="22.5" fill="#00ff00"/>
<rect x="744.13" y="459.4" width="6.2" height="16.5" fill="#00ff00"/>
<rect x="753.04" y="467.1" width="6.2" height="8.8" fill="#00ff00"/>
<rect x="761.95" y="472.1" width="6.2" height="3.8" fill="#00ff00"/>
<rect x="770.86" y="475.9" width="6.2" height="2.3" fill="#ff0000"/>
<rect x="779.77" y="475.9" width="6.2" height="11.8" fill="#ff0000"/>
<rect x="788.68" y="475.9" width="6.2" height="14" fill="#ff0000"/>
<rect x="797.59" y="475.9" width="6.2" height="11" fill="#ff0000"/>
<rect x="806.5" y="475.9" width="6.2" height="7.5" fill="#ff0000"/>
<rect x="815.41" y="475.9" width="6.2" height="4" fill="#ff0000"/>
<rect x="824.32" y="475.9" width="6.2" height="1.5" fill="#ff0000"/>
<rect x="833.23" y="475.9" width="6.2" height="0.5" fill="#ff0000" opacity="0.45"/>
<rect x="842.14" y="475.9" width="6.2" height="3" fill="#ff0000"/>
<rect x="851.05" y="475.9" width="6.2" height="2" fill="#ff0000"/>
<rect x="859.96" y="475.9" width="6.2" height="6" fill="#ff0000"/>
<rect x="868.87" y="475.9" width="6.2" height="8.8" fill="#ff0000"/>
<rect x="877.78" y="475.9" width="6.2" height="7.3" fill="#ff0000"/>
<rect x="886.69" y="475.9" width="6.2" height="7.3" fill="#ff0000"/>
<path d="M-1.21 552.5 L7.7 563.3 L16.61 557.5 L25.52 557 L34.43 559.8 L43.34 559.8 L52.25 562.8 L61.16 561 L70.07 564.3 L78.98 567 L87.89 567 L96.8 560.8 L105.71 555 L114.62 560.5 L123.53 556.8 L132.44 556.5 L141.35 556.3 L150.26 545 L159.17 541.8 L168.08 542 L176.99 544.8 L185.9 537 L194.81 538 L203.72 541 L212.63 537.3 L221.54 547 L230.45 556.2 L239.36 555.4 L248.27 564.3 L257.18 561.3 L266.09 566.5 L275 566.8 L283.91 567.8 L292.82 567.8 L301.73 559.5 L310.64 570 L319.55 572.3 L328.46 575.5 L337.37 579.8 L346.28 580.5 L355.19 569.3 L364.1 568.5 L373.01 575.3 L381.92 564.8 L390.83 569.5 L399.74 569 L408.65 570 L417.56 580 L426.47 581.5 L435.38 574.3 L444.29 566.5 L453.2 566.5 L462.11 565.3 L471.02 557 L479.93 552.5 L488.84 547 L497.75 552.5 L506.66 551.8 L515.57 554.5 L524.48 551.5 L533.39 552.3 L542.3 552 L551.21 554.5 L560.12 546 L569.03 547 L577.94 545.5 L586.85 543.3 L595.76 553.3 L604.67 552.8 L613.58 562.5 L622.49 562.5 L631.4 571 L640.31 556.3 L649.22 559.3 L658.13 559 L667.04 559.5 L675.95 560.3 L684.86 555.4 L693.77 546.2 L702.68 547.5 L711.59 538.3 L720.5 538.3 L729.41 534.3 L738.32 534.3 L747.23 551.3 L756.14 559.3 L765.05 557.8 L773.96 563 L782.87 574.5 L791.78 567.5 L800.69 560.8 L809.6 558 L818.51 555.5 L827.42 555 L836.33 555.3 L845.24 562.8 L854.15 557.5 L863.06 567.3 L871.97 567.8 L880.88 562 L889.79 564" fill="none" stroke="#3c5cf0" stroke-width="1.15" stroke-linejoin="round"/>
<g fill="#9c9c9c">
<rect x="899" y="364.57" width="4" height="1"/>
<rect x="899" y="339.91" width="4" height="1"/>
<rect x="899" y="315.26" width="4" height="1"/>
<rect x="899" y="290.61" width="4" height="1"/>
<rect x="899" y="265.95" width="4" height="1"/>
<rect x="899" y="241.3" width="4" height="1"/>
<rect x="899" y="216.64" width="4" height="1"/>
<rect x="899" y="191.99" width="4" height="1"/>
<rect x="899" y="167.33" width="4" height="1"/>
<rect x="899" y="142.68" width="4" height="1"/>
<rect x="899" y="118.02" width="4" height="1"/>
<rect x="899" y="93.37" width="4" height="1"/>
<rect x="899" y="68.71" width="4" height="1"/>
<rect x="899" y="44.05" width="4" height="1"/>
<rect x="899" y="19.4" width="4" height="1"/>
<rect x="899" y="-5.26" width="4" height="1"/>
<rect x="899" y="418.4" width="4" height="1"/>
<rect x="899" y="446.9" width="4" height="1"/>
<rect x="899" y="475.2" width="4" height="1"/>
<rect x="899" y="533.4" width="4" height="1"/>
<rect x="899" y="557.7" width="4" height="1"/>
<rect x="899" y="582" width="4" height="1"/>
<rect x="899" y="606.3" width="4" height="1"/>
<rect x="899" y="630.7" width="4" height="1"/>
<rect x="7.2" y="632.5" width="1" height="2.8"/>
<rect x="33.93" y="632.5" width="1" height="2.8"/>
<rect x="60.66" y="632.5" width="1" height="2.8"/>
<rect x="87.39" y="632.5" width="1" height="2.8"/>
<rect x="123.03" y="632.5" width="1" height="2.8"/>
<rect x="149.76" y="632.5" width="1" height="2.8"/>
<rect x="176.49" y="632.5" width="1" height="2.8"/>
<rect x="203.22" y="632.5" width="1" height="2.8"/>
<rect x="229.95" y="632.5" width="1" height="2.8"/>
<rect x="256.68" y="632.5" width="1" height="2.8"/>
<rect x="283.41" y="632.5" width="1" height="2.8"/>
<rect x="310.14" y="632.5" width="1" height="2.8"/>
<rect x="345.78" y="632.5" width="1" height="2.8"/>
<rect x="372.51" y="632.5" width="1" height="2.8"/>
<rect x="399.24" y="632.5" width="1" height="2.8"/>
<rect x="425.97" y="632.5" width="1" height="2.8"/>
<rect x="452.7" y="632.5" width="1" height="2.8"/>
<rect x="479.43" y="632.5" width="1" height="2.8"/>
<rect x="506.16" y="632.5" width="1" height="2.8"/>
<rect x="532.89" y="632.5" width="1" height="2.8"/>
<rect x="559.62" y="632.5" width="1" height="2.8"/>
<rect x="586.35" y="632.5" width="1" height="2.8"/>
<rect x="613.08" y="632.5" width="1" height="2.8"/>
<rect x="639.81" y="632.5" width="1" height="2.8"/>
<rect x="666.54" y="632.5" width="1" height="2.8"/>
<rect x="693.27" y="632.5" width="1" height="2.8"/>
<rect x="720" y="632.5" width="1" height="2.8"/>
<rect x="746.73" y="632.5" width="1" height="2.8"/>
<rect x="773.46" y="632.5" width="1" height="2.8"/>
<rect x="800.19" y="632.5" width="1" height="2.8"/>
<rect x="826.92" y="632.5" width="1" height="2.8"/>
<rect x="853.65" y="632.5" width="1" height="2.8"/>
<rect x="880.38" y="632.5" width="1" height="2.8"/>
</g>
<text transform="translate(905.7 368.52) scale(1 1)">101.0000</text>
<text transform="translate(905.7 343.86) scale(1 1)">102.0000</text>
<text transform="translate(905.7 319.21) scale(1 1)">103.0000</text>
<text transform="translate(905.7 294.56) scale(1 1)">104.0000</text>
<text transform="translate(905.7 269.9) scale(1 1)">105.0000</text>
<text transform="translate(905.7 245.25) scale(1 1)">106.0000</text>
<text transform="translate(905.7 220.59) scale(1 1)">107.0000</text>
<text transform="translate(905.7 195.94) scale(1 1)">108.0000</text>
<text transform="translate(905.7 171.28) scale(1 1)">109.0000</text>
<text transform="translate(905.7 146.62) scale(1 1)">110.0000</text>
<text transform="translate(905.7 121.97) scale(1 1)">111.0000</text>
<text transform="translate(905.7 97.32) scale(1 1)">112.0000</text>
<text transform="translate(905.7 72.66) scale(1 1)">113.0000</text>
<text transform="translate(905.7 48.01) scale(1 1)">114.0000</text>
<text transform="translate(905.7 23.35) scale(1 1)">115.0000</text>
<text transform="translate(905.7 -1.31) scale(1 1)">116.0000</text>
<text transform="translate(905.7 422.35) scale(1 1)">1.0000</text>
<text transform="translate(905.7 450.85) scale(1 1)">0.5000</text>
<text transform="translate(905.7 479.15) scale(1 1)">-0.0000</text>
<text transform="translate(905.7 537.35) scale(1 1)">80.0000</text>
<text transform="translate(905.7 561.65) scale(1 1)">60.0000</text>
<text transform="translate(905.7 585.95) scale(1 1)">40.0000</text>
<text transform="translate(905.7 610.25) scale(1 1)">20.0000</text>
<text transform="translate(905.7 634.65) scale(1 1)">0.0000</text>
<text class="x" transform="translate(7.7 647.8) scale(1 1)" text-anchor="middle">16</text>
<text class="x" transform="translate(34.43 647.8) scale(1 1)" text-anchor="middle">20</text>
<text class="x" transform="translate(61.16 647.8) scale(1 1)" text-anchor="middle">23</text>
<text class="x" transform="translate(87.89 647.8) scale(1 1)" text-anchor="middle">27</text>
<text class="x" transform="translate(123.53 647.8) scale(1 1)" text-anchor="middle">Jul</text>
<text class="x" transform="translate(150.26 647.8) scale(1 1)" text-anchor="middle">5</text>
<text class="x" transform="translate(176.99 647.8) scale(1 1)" text-anchor="middle">8</text>
<text class="x" transform="translate(203.72 647.8) scale(1 1)" text-anchor="middle">13</text>
<text class="x" transform="translate(230.45 647.8) scale(1 1)" text-anchor="middle">17</text>
<text class="x" transform="translate(257.18 647.8) scale(1 1)" text-anchor="middle">20</text>
<text class="x" transform="translate(283.91 647.8) scale(1 1)" text-anchor="middle">24</text>
<text class="x" transform="translate(310.64 647.8) scale(1 1)" text-anchor="middle">27</text>
<text class="x" transform="translate(346.28 647.8) scale(1 1)" text-anchor="middle">Aug</text>
<text class="x" transform="translate(373.01 647.8) scale(1 1)" text-anchor="middle">4</text>
<text class="x" transform="translate(399.74 647.8) scale(1 1)" text-anchor="middle">8</text>
<text class="x" transform="translate(426.47 647.8) scale(1 1)" text-anchor="middle">11</text>
<text class="x" transform="translate(453.2 647.8) scale(1 1)" text-anchor="middle">16</text>
<text class="x" transform="translate(479.93 647.8) scale(1 1)" text-anchor="middle">19</text>
<text class="x" transform="translate(506.66 647.8) scale(1 1)" text-anchor="middle">24</text>
<text class="x" transform="translate(533.39 647.8) scale(1 1)" text-anchor="middle">29</text>
<text class="x" transform="translate(560.12 647.8) scale(1 1)" text-anchor="middle">Sep</text>
<text class="x" transform="translate(586.85 647.8) scale(1 1)" text-anchor="middle">6</text>
<text class="x" transform="translate(613.58 647.8) scale(1 1)" text-anchor="middle">9</text>
<text class="x" transform="translate(640.31 647.8) scale(1 1)" text-anchor="middle">13</text>
<text class="x" transform="translate(667.04 647.8) scale(1 1)" text-anchor="middle">16</text>
<text class="x" transform="translate(693.77 647.8) scale(1 1)" text-anchor="middle">21</text>
<text class="x" transform="translate(720.5 647.8) scale(1 1)" text-anchor="middle">24</text>
<text class="x" transform="translate(747.23 647.8) scale(1 1)" text-anchor="middle">28</text>
<text class="x" transform="translate(773.96 647.8) scale(1 1)" text-anchor="middle">Oct</text>
<text class="x" transform="translate(800.69 647.8) scale(1 1)" text-anchor="middle">6</text>
<text class="x" transform="translate(827.42 647.8) scale(1 1)" text-anchor="middle">11</text>
<text class="x" transform="translate(854.15 647.8) scale(1 1)" text-anchor="middle">14</text>
<text class="x" transform="translate(880.88 647.8) scale(1 1)" text-anchor="middle">19</text>
<path d="M895 77.8 L901 72.1 H949 V83.6 H901 Z" fill="#253e65"/>
<text class="b" transform="translate(904.9 81.7) scale(1.03 1.0)">112.6530</text>
</svg></body></html>
